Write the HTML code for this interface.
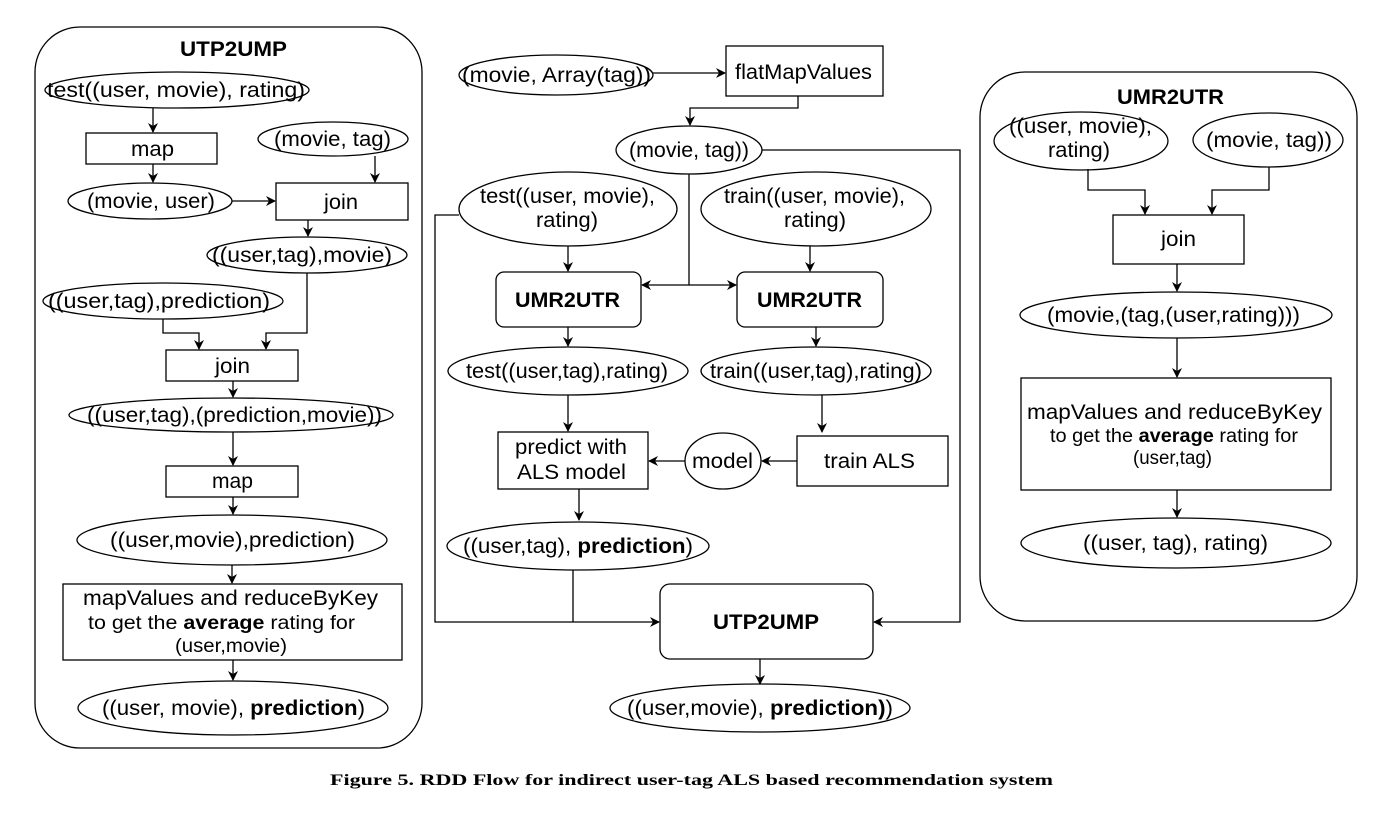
<!DOCTYPE html>
<html><head><meta charset="utf-8"><style>
body{margin:0;background:#fff}
svg{display:block}
text{font-family:"Liberation Sans",sans-serif;font-size:21px;fill:#000}
.b{font-weight:bold}
.s{font-size:19px}
</style></head><body>
<svg width="1391" height="823" viewBox="0 0 1391 823" xmlns="http://www.w3.org/2000/svg">
<defs><marker id="a" markerWidth="10" markerHeight="10" refX="9" refY="5" orient="auto" markerUnits="userSpaceOnUse"><path d="M0,0 L10,5 L0,10 L3,5 z" fill="#000"/></marker></defs>
<g fill="none" stroke="#000" stroke-width="1.3">
<rect x="35" y="27" width="387" height="721" rx="45"/>
<ellipse cx="177" cy="90" rx="132" ry="18"/>
<rect x="86" y="133" width="131" height="31"/>
<ellipse cx="333" cy="139" rx="75" ry="17"/>
<ellipse cx="150" cy="201" rx="82" ry="18"/>
<rect x="276" y="183" width="132" height="37"/>
<ellipse cx="307" cy="255" rx="100" ry="18"/>
<ellipse cx="163" cy="301" rx="120" ry="18"/>
<rect x="166" y="350" width="132" height="31"/>
<ellipse cx="231" cy="415" rx="162" ry="17"/>
<rect x="166" y="466" width="132" height="31"/>
<ellipse cx="232" cy="540" rx="155" ry="25"/>
<rect x="63" y="584" width="339" height="76"/>
<ellipse cx="233" cy="708" rx="155" ry="27"/>
<path d="M153,108 V132" marker-end="url(#a)"/>
<path d="M153,164 V182" marker-end="url(#a)"/>
<path d="M375,156 V182" marker-end="url(#a)"/>
<path d="M232,201 H275" marker-end="url(#a)"/>
<path d="M308,220 V236" marker-end="url(#a)"/>
<path d="M163,319 V333 H199 V349" marker-end="url(#a)"/>
<path d="M307,273 V333 H266 V349" marker-end="url(#a)"/>
<path d="M233,381 V397" marker-end="url(#a)"/>
<path d="M233,432 V465" marker-end="url(#a)"/>
<path d="M233,497 V514" marker-end="url(#a)"/>
<path d="M232,565 V583" marker-end="url(#a)"/>
<path d="M233,660 V680" marker-end="url(#a)"/>
<ellipse cx="556" cy="75" rx="97" ry="20"/>
<rect x="726" y="46" width="157" height="50"/>
<path d="M653,73 H725" marker-end="url(#a)"/>
<path d="M798,96 V108 H690 V125" marker-end="url(#a)"/>
<ellipse cx="689" cy="150" rx="73" ry="24"/>
<path d="M762,150 H960 V622 H874" marker-end="url(#a)"/>
<path d="M689,174 V285 H642" marker-end="url(#a)"/>
<path d="M689,285 H736" marker-end="url(#a)"/>
<ellipse cx="568" cy="209" rx="109" ry="37"/>
<ellipse cx="816" cy="209" rx="115" ry="37"/>
<path d="M459,215 H435 V622 H659" marker-end="url(#a)"/>
<rect x="496" y="272" width="145" height="55" rx="8"/>
<rect x="737" y="272" width="146" height="55" rx="8"/>
<path d="M568,246 V271" marker-end="url(#a)"/>
<path d="M810,246 V271" marker-end="url(#a)"/>
<path d="M568,327 V346" marker-end="url(#a)"/>
<path d="M816,327 V346" marker-end="url(#a)"/>
<ellipse cx="568" cy="371" rx="120" ry="24"/>
<ellipse cx="816" cy="371" rx="115" ry="24"/>
<path d="M568,395 V431" marker-end="url(#a)"/>
<path d="M822,395 V432" marker-end="url(#a)"/>
<rect x="498" y="432" width="150" height="57"/>
<rect x="797" y="436" width="151" height="50"/>
<ellipse cx="723" cy="461" rx="38" ry="28"/>
<path d="M797,461 H762" marker-end="url(#a)"/>
<path d="M685,461 H649" marker-end="url(#a)"/>
<path d="M579,489 V520" marker-end="url(#a)"/>
<ellipse cx="578" cy="546" rx="131" ry="24"/>
<path d="M573,570 V622"/>
<rect x="660" y="584" width="213" height="75" rx="10"/>
<path d="M760,659 V684" marker-end="url(#a)"/>
<ellipse cx="760" cy="708" rx="150" ry="24"/>
<rect x="980" y="72" width="377" height="549" rx="45"/>
<ellipse cx="1081" cy="141" rx="87" ry="29"/>
<ellipse cx="1268" cy="140" rx="75" ry="27"/>
<path d="M1088,169 V190 H1145 V214" marker-end="url(#a)"/>
<path d="M1269,167 V190 H1212 V214" marker-end="url(#a)"/>
<rect x="1113" y="215" width="131" height="49"/>
<path d="M1177,264 V291" marker-end="url(#a)"/>
<ellipse cx="1176" cy="315" rx="156" ry="23"/>
<path d="M1177,338 V377" marker-end="url(#a)"/>
<rect x="1021" y="378" width="310" height="112"/>
<path d="M1177,490 V517" marker-end="url(#a)"/>
<ellipse cx="1176" cy="543" rx="155" ry="25"/>
</g>
<g>
<text x="180" y="56" class="b" textLength="107" lengthAdjust="spacingAndGlyphs">UTP2UMP</text>
<text x="47" y="97" textLength="258" lengthAdjust="spacingAndGlyphs">test((user, movie), rating)</text>
<text x="131" y="156" textLength="43" lengthAdjust="spacingAndGlyphs">map</text>
<text x="274" y="146" textLength="117" lengthAdjust="spacingAndGlyphs">(movie, tag)</text>
<text x="87" y="208" textLength="128" lengthAdjust="spacingAndGlyphs">(movie, user)</text>
<text x="324" y="209" textLength="34" lengthAdjust="spacingAndGlyphs">join</text>
<text x="212" y="262" textLength="180" lengthAdjust="spacingAndGlyphs">((user,tag),movie)</text>
<text x="48" y="308" textLength="222" lengthAdjust="spacingAndGlyphs">((user,tag),prediction)</text>
<text x="215" y="373" textLength="35" lengthAdjust="spacingAndGlyphs">join</text>
<text x="87" y="422" textLength="295" lengthAdjust="spacingAndGlyphs">((user,tag),(prediction,movie))</text>
<text x="212" y="488" textLength="41" lengthAdjust="spacingAndGlyphs">map</text>
<text x="110" y="547" textLength="245" lengthAdjust="spacingAndGlyphs">((user,movie),prediction)</text>
<text x="83" y="605" textLength="295" lengthAdjust="spacingAndGlyphs">mapValues and reduceByKey</text>
<text x="88" y="629" class="s" textLength="267" lengthAdjust="spacingAndGlyphs">to get the <tspan class="b">average</tspan> rating for</text>
<text x="175" y="652" class="s" textLength="112" lengthAdjust="spacingAndGlyphs">(user,movie)</text>
<text x="102" y="715" textLength="263" lengthAdjust="spacingAndGlyphs">((user, movie), <tspan class="b">prediction</tspan>)</text>

<text x="462" y="82" textLength="189" lengthAdjust="spacingAndGlyphs">(movie, Array(tag))</text>
<text x="735" y="79" textLength="137" lengthAdjust="spacingAndGlyphs">flatMapValues</text>
<text x="629" y="157" textLength="120" lengthAdjust="spacingAndGlyphs">(movie, tag))</text>
<text x="480" y="203" textLength="175" lengthAdjust="spacingAndGlyphs">test((user, movie),</text>
<text x="536" y="227" textLength="62" lengthAdjust="spacingAndGlyphs">rating)</text>
<text x="724" y="203" textLength="181" lengthAdjust="spacingAndGlyphs">train((user, movie),</text>
<text x="784" y="227" textLength="62" lengthAdjust="spacingAndGlyphs">rating)</text>
<text x="515" y="307" class="b" textLength="105" lengthAdjust="spacingAndGlyphs">UMR2UTR</text>
<text x="757" y="307" class="b" textLength="105" lengthAdjust="spacingAndGlyphs">UMR2UTR</text>
<text x="466" y="378" textLength="202" lengthAdjust="spacingAndGlyphs">test((user,tag),rating)</text>
<text x="710" y="378" textLength="212" lengthAdjust="spacingAndGlyphs">train((user,tag),rating)</text>
<text x="515" y="454" textLength="112" lengthAdjust="spacingAndGlyphs">predict with</text>
<text x="517" y="479" textLength="109" lengthAdjust="spacingAndGlyphs">ALS model</text>
<text x="692" y="468" textLength="61" lengthAdjust="spacingAndGlyphs">model</text>
<text x="824" y="468" textLength="91" lengthAdjust="spacingAndGlyphs">train ALS</text>
<text x="463" y="553" textLength="230" lengthAdjust="spacingAndGlyphs">((user,tag), <tspan class="b">prediction</tspan>)</text>
<text x="713" y="629" class="b" textLength="106" lengthAdjust="spacingAndGlyphs">UTP2UMP</text>
<text x="627" y="715" textLength="266" lengthAdjust="spacingAndGlyphs">((user,movie), <tspan class="b">prediction)</tspan>)</text>

<text x="1117" y="104" class="b" textLength="107" lengthAdjust="spacingAndGlyphs">UMR2UTR</text>
<text x="1009" y="133" textLength="143" lengthAdjust="spacingAndGlyphs">((user, movie),</text>
<text x="1048" y="157" textLength="62" lengthAdjust="spacingAndGlyphs">rating)</text>
<text x="1206" y="147" textLength="126" lengthAdjust="spacingAndGlyphs">(movie, tag))</text>
<text x="1161" y="246" textLength="35" lengthAdjust="spacingAndGlyphs">join</text>
<text x="1047" y="322" textLength="253" lengthAdjust="spacingAndGlyphs">(movie,(tag,(user,rating)))</text>
<text x="1027" y="419" textLength="295" lengthAdjust="spacingAndGlyphs">mapValues and reduceByKey</text>
<text x="1050" y="442" class="s" textLength="248" lengthAdjust="spacingAndGlyphs">to get the <tspan class="b">average</tspan> rating for</text>
<text x="1133" y="464" class="s" textLength="79" lengthAdjust="spacingAndGlyphs">(user,tag)</text>
<text x="1083" y="550" textLength="185" lengthAdjust="spacingAndGlyphs">((user, tag), rating)</text>

<text x="330" y="785" textLength="723" lengthAdjust="spacingAndGlyphs" style="font-family:'Liberation Serif',serif;font-size:16px;font-weight:bold">Figure 5. RDD Flow for indirect user-tag ALS based recommendation system</text>
</g>
</svg>
</body></html>
